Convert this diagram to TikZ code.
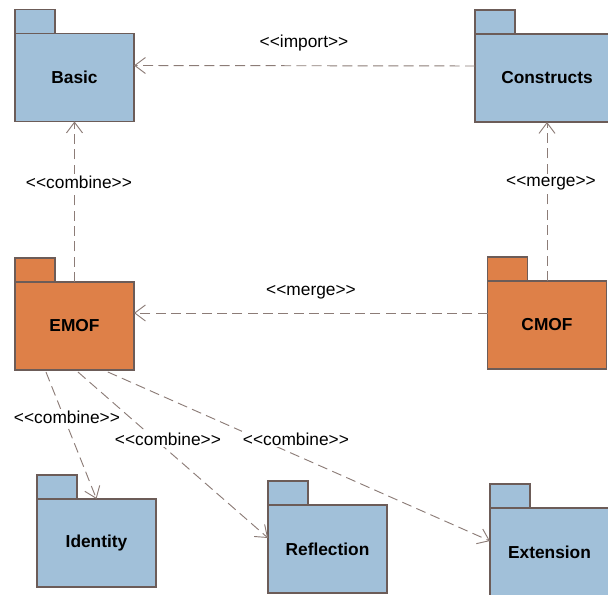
\documentclass[tikz,border=0pt]{standalone}
\usepackage{fontspec}
\setmainfont{Liberation Sans}[Ligatures=TeXOff]
\usetikzlibrary{arrows.meta}
\definecolor{pkgblue}{RGB}{161,192,217}
\definecolor{pkgorange}{RGB}{222,128,72}
\definecolor{pkgline}{RGB}{108,92,88}
\definecolor{depline}{RGB}{140,124,119}

\tikzset{
    pkg body/.style={draw=pkgline, line width=1pt, inner sep=0pt, outer sep=0pt,
                     minimum width=89.25pt, minimum height=66pt,
                     font=\fontsize{13}{15}\selectfont\bfseries},
    pkg tab/.style={draw=pkgline, line width=1pt, inner sep=0pt, outer sep=0pt,
                    minimum width=30pt, minimum height=18pt, anchor=south west},
    pkg core/.style={fill=pkgorange},
    pkg lib/.style={fill=pkgblue},
    pkg dep/.style={draw=depline, line width=0.7pt, dash pattern=on 7.5pt off 4pt,
                    -{Straight Barb[length=8pt,width=12pt]}},
    pkg stereo/.style={fill=white, inner sep=1pt,
                       font=\fontsize{13}{15}\selectfont},
}
\newcommand{\package}[6][]{% [body extras], name, fill, x, y, text
    \node[pkg body, #3, #1] (#2) at (#4, #5) {#6};
    \node[pkg tab, #3] (#2-tab) at (#2.north west) {};
}

\begin{document}
\begin{tikzpicture}[x=0.75pt, y=-0.75pt]
    \useasboundingbox (0,0) rectangle (608,595);
    % Top row
    \package{basic}{pkg lib}{74.5}{77.5}{Basic}
    \package[minimum width=108pt]{constructs}{pkg lib}{547}{78}{Constructs}
    % Middle row
    \package{emof}{pkg core}{74.5}{326}{EMOF}
    \package{cmof}{pkg core}{547}{325}{CMOF}
    % Bottom row
    \package{identity}{pkg lib}{96.5}{543}{Identity}
    \package{reflection}{pkg lib}{327.5}{549}{Reflection}
    \package{extension}{pkg lib}{549.5}{552}{Extension}
    % Dependencies
    \draw[pkg dep] ([yshift=9pt]constructs.west) -- ([yshift=9pt]basic.east);
    \draw[pkg dep] (emof.north) -- (basic.south);
    \draw[pkg dep] (cmof.north) -- (constructs.south);
    \draw[pkg dep] ([yshift=9pt]cmof.west) -- ([yshift=9.75pt]emof.east);
    \draw[pkg dep] ([xshift=-21.4pt, yshift=-1.5pt]emof.south) -- (identity.north);
    \draw[pkg dep] ([xshift=2.6pt, yshift=-1.5pt]emof.south) -- ([yshift=8.25pt]reflection.west);
    \draw[pkg dep] ([xshift=25pt, yshift=-1.5pt]emof.south) -- ([yshift=8.25pt]extension.west);
    % Stereotype labels
    \node[pkg stereo] (import-lbl) at (304, 43) {<<import>>};
    \node[pkg stereo] (combine-basic) at (79, 182) {<<combine>>};
    \node[pkg stereo] (merge-constructs) at (551, 183) {<<merge>>};
    \node[pkg stereo] (merge-emof) at (311, 292) {<<merge>>};
    \node[pkg stereo] (combine-identity) at (67, 417) {<<combine>>};
    \node[pkg stereo] (combine-reflection) at (168, 439) {<<combine>>};
    \node[pkg stereo] (combine-extension) at (296, 439) {<<combine>>};
\end{tikzpicture}
\end{document}
